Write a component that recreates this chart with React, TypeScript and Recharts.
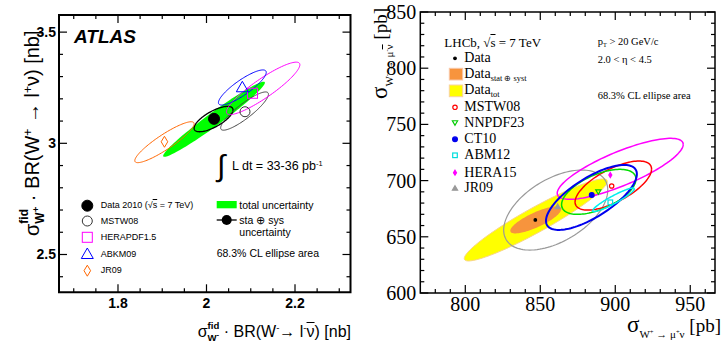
import React from 'react';
import { ScatterChart, Scatter, XAxis, YAxis, ReferenceArea } from 'recharts';

// ---------- ATLAS (left), values in nb ----------
const atlasXTicks = [1.7, 1.75, 1.8, 1.85, 1.9, 1.95, 2, 2.05, 2.1, 2.15, 2.2, 2.25, 2.3];
const atlasXMajors = [1.8, 2, 2.2];
const atlasXLabels = ['1.8', '2', '2.2'];
const atlasYTicks = [2.4, 2.5, 2.6, 2.7, 2.8, 2.9, 3, 3.1, 3.2, 3.3, 3.4, 3.5];
const atlasYMajors = [2.5, 3, 3.5];
const atlasYLabels = ['2.5', '3', '3.5'];

// ellipses: total, sta+sys, MSTW08, HERAPDF1.5, ABKM09, JR09
const atlasEllipseX = [2.017, 2.016, 2.086, 2.128, 2.081, 1.905];
const atlasEllipseY = [3.108, 3.109, 3.145, 3.247, 3.251, 3.005];
const atlasSigmaX = [0.115, 0.044, 0.054, 0.083, 0.054, 0.067];
const atlasSigmaY = [0.169, 0.057, 0.086, 0.118, 0.079, 0.092];
const atlasRho = [0.975, 0.72, 0.88, 0.9, 0.86, 0.9];

// points: Data 2010, MSTW08, HERAPDF1.5, ABKM09, JR09
const atlasPointNames = ['Data 2010', 'MSTW08', 'HERAPDF1.5', 'ABKM09', 'JR09'];
const atlasPointX = [2.017, 2.087, 2.104, 2.081, 1.905];
const atlasPointY = [3.11, 3.142, 3.225, 3.252, 3.007];

// ---------- LHCb (right), values in pb ----------
const lhcbXTicks = [780, 790, 800, 810, 820, 830, 840, 850, 860, 870, 880, 890, 900, 910, 920, 930, 940, 950, 960];
const lhcbXMajors = [800, 850, 900, 950];
const lhcbXLabels = ['800', '850', '900', '950'];
const lhcbYTicks = [600, 610, 620, 630, 640, 650, 660, 670, 680, 690, 700, 710, 720, 730, 740, 750, 760, 770, 780, 790, 800, 810, 820, 830, 840, 850];
const lhcbYMajors = [600, 650, 700, 750, 800, 850];
const lhcbYLabels = ['600', '650', '700', '750', '800', '850'];

// ellipses: tot, stat+syst, JR09, HERA15, MSTW08, NNPDF23, CT10, ABM12
const lhcbEllipseX = [847, 847, 860.3, 903.3, 898.7, 889, 884.1, 898.8];
const lhcbEllipseY = [665, 665, 673.8, 710.5, 695.6, 690, 685, 682.9];
const lhcbSigmaX = [47.7, 17, 34.7, 42, 25.5, 24.8, 30.3, 13.9];
const lhcbSigmaY = [36.5, 12, 35.6, 27.1, 21.8, 20, 28.9, 10.5];
const lhcbRho = [0.94, 0.8, 0.5, 0.8, 0.67, 0.57, 0.72, 0.93];

// points: Data, MSTW08, NNPDF23, CT10, ABM12, HERA15, JR09
const lhcbPointNames = ['Data', 'MSTW08', 'NNPDF23', 'CT10', 'ABM12', 'HERA15', 'JR09'];
const lhcbPointX = [846.7, 897.6, 888.7, 884.3, 896.7, 896.7, 861.6];
const lhcbPointY = [665, 695.2, 690.1, 687.2, 680.7, 705, 676.8];

// ---------- styles ----------
const SANS = '"Liberation Sans", Arial, Helvetica, sans-serif';
const SERIF = '"Liberation Serif", "Times New Roman", serif';

const atlasEllipseStyle = [
  { fill: '#00ff00', stroke: 'none', sw: 0 },
  { fill: 'none', stroke: '#000', sw: 1.3 },
  { fill: 'none', stroke: '#444', sw: 1 },
  { fill: 'none', stroke: '#ff00ff', sw: 1 },
  { fill: 'none', stroke: '#0000ff', sw: 1 },
  { fill: 'none', stroke: '#ff6600', sw: 1 },
];
const atlasMarkers = [
  { kind: 'circle', color: '#000', filled: true, r: 5.5 },
  { kind: 'circle', color: '#333', filled: false, r: 5 },
  { kind: 'square', color: '#ff00ff', filled: false, r: 5 },
  { kind: 'triUp', color: '#0000ff', filled: false, r: 6 },
  { kind: 'diamond', color: '#ff6600', filled: false, r: 5.5 },
];
const lhcbEllipseStyle = [
  { fill: '#ffff00', stroke: '#f8d38c', sw: 1 },
  { fill: '#f7943d', stroke: 'none', sw: 0 },
  { fill: 'none', stroke: '#999', sw: 1.2 },
  { fill: 'none', stroke: '#ff00ff', sw: 1.5 },
  { fill: 'none', stroke: '#ff0000', sw: 1.5 },
  { fill: 'none', stroke: '#00dd00', sw: 1.5 },
  { fill: 'none', stroke: '#0000ee', sw: 2 },
  { fill: 'none', stroke: '#00eeee', sw: 1.5 },
];
const lhcbMarkers = [
  { kind: 'circle', color: '#000', filled: true, r: 1.3 },
  { kind: 'circle', color: '#ff0000', filled: false, r: 2.2 },
  { kind: 'triDown', color: '#00cc00', filled: false, r: 2.6 },
  { kind: 'circle', color: '#0000ee', filled: true, r: 2.4 },
  { kind: 'square', color: '#00dddd', filled: false, r: 2.3 },
  { kind: 'diamond', color: '#ff00ff', filled: true, r: 2.5 },
  { kind: 'triUp', color: '#999', filled: true, r: 2.6 },
];

type Pt = { x: number; y: number };

// outline of a correlated error ellipse
function ellipsePoints(cx: number, cy: number, sx: number, sy: number, rho: number): Pt[] {
  const s = Math.sqrt(1 - rho * rho);
  const pts: Pt[] = [];
  for (let i = 0; i <= 120; i++) {
    const t = (i / 120) * 2 * Math.PI;
    pts.push({ x: cx + sx * Math.cos(t), y: cy + sy * (rho * Math.cos(t) + s * Math.sin(t)) });
  }
  return pts;
}

function Marker({ kind, cx, cy, r, color, filled, sw = 1 }: any) {
  const fill = filled ? color : 'none';
  if (kind === 'circle') return <circle cx={cx} cy={cy} r={r} fill={fill} stroke={color} strokeWidth={sw} />;
  if (kind === 'square') return <rect x={cx - r} y={cy - r} width={2 * r} height={2 * r} fill={fill} stroke={color} strokeWidth={sw} />;
  if (kind === 'triUp')
    return <polygon points={`${cx},${cy - r} ${cx + r},${cy + r * 0.75} ${cx - r},${cy + r * 0.75}`} fill={fill} stroke={color} strokeWidth={sw} />;
  if (kind === 'triDown')
    return <polygon points={`${cx},${cy + r} ${cx + r},${cy - r * 0.75} ${cx - r},${cy - r * 0.75}`} fill={fill} stroke={color} strokeWidth={sw} />;
  return <polygon points={`${cx},${cy - r} ${cx + r * 0.6},${cy} ${cx},${cy + r} ${cx - r * 0.6},${cy}`} fill={fill} stroke={color} strokeWidth={sw} />;
}

const near = (a: number, b: number) => Math.abs(a - b) < 1e-6;

const bottomTick = (cfg: any) => (p: any) => {
  const i = cfg.majors.findIndex((v: number) => near(v, p.payload.value));
  const len = i >= 0 ? cfg.majorLen : cfg.minorLen;
  return (
    <g>
      <line x1={p.x} x2={p.x} y1={p.y} y2={p.y - len} stroke="#000" strokeWidth={1.2} />
      <line x1={p.x} x2={p.x} y1={p.y - cfg.plotH} y2={p.y - cfg.plotH + len} stroke="#000" strokeWidth={1.2} />
      {i >= 0 && (
        <text x={p.x} y={p.y + cfg.labelDy} textAnchor="middle" fontFamily={cfg.font} fontSize={cfg.size} fontWeight={cfg.weight} fill="#000">
          {cfg.labels[i]}
        </text>
      )}
    </g>
  );
};

const leftTick = (cfg: any) => (p: any) => {
  const i = cfg.majors.findIndex((v: number) => near(v, p.payload.value));
  const len = i >= 0 ? cfg.majorLen : cfg.minorLen;
  return (
    <g>
      <line x1={p.x} x2={p.x + len} y1={p.y} y2={p.y} stroke="#000" strokeWidth={1.2} />
      <line x1={p.x + cfg.plotW} x2={p.x + cfg.plotW - len} y1={p.y} y2={p.y} stroke="#000" strokeWidth={1.2} />
      {i >= 0 && (
        <text x={p.x - cfg.labelDx} y={p.y + cfg.baseDy} textAnchor="end" fontFamily={cfg.font} fontSize={cfg.size} fontWeight={cfg.weight} fill="#000">
          {cfg.labels[i]}
        </text>
      )}
    </g>
  );
};

const H = 344;
const PANEL_W = 361;

// ---------- ATLAS panel ----------
const A_DOMAIN_X: [number, number] = [1.6667, 2.3254];
const A_DOMAIN_Y: [number, number] = [2.33, 3.577];
const A_TOP = 15;
const A_RIGHT = 10.5;
const A_YW = 59;
const A_XH = 51.7;
const A_PLOT_W = PANEL_W - A_YW - A_RIGHT;
const A_PLOT_H = H - A_TOP - A_XH;

function AtlasChart() {
  return (
    <ScatterChart width={PANEL_W} height={H} margin={{ top: A_TOP, right: A_RIGHT, left: 0, bottom: 0 }}>
      <XAxis
        type="number"
        dataKey="x"
        domain={A_DOMAIN_X}
        allowDataOverflow
        ticks={atlasXTicks}
        interval={0}
        height={A_XH}
        axisLine={false}
        tickLine={false}
        tickSize={0}
        tickMargin={0}
        tick={bottomTick({ majors: atlasXMajors, labels: atlasXLabels, plotH: A_PLOT_H, majorLen: 8, minorLen: 4, labelDy: 16, font: SANS, size: 14, weight: 'bold' })}
      />
      <YAxis
        type="number"
        dataKey="y"
        domain={A_DOMAIN_Y}
        allowDataOverflow
        ticks={atlasYTicks}
        interval={0}
        width={A_YW}
        axisLine={false}
        tickLine={false}
        tickSize={0}
        tickMargin={0}
        tick={leftTick({ majors: atlasYMajors, labels: atlasYLabels, plotW: A_PLOT_W, majorLen: 8, minorLen: 4, labelDx: 3, baseDy: 5, font: SANS, size: 14, weight: 'bold' })}
      />
      {atlasEllipseX.map((cx, i) => (
        <Scatter
          key={'ae' + i}
          data={ellipsePoints(cx, atlasEllipseY[i], atlasSigmaX[i], atlasSigmaY[i], atlasRho[i])}
          line={{ fill: atlasEllipseStyle[i].fill, stroke: atlasEllipseStyle[i].stroke, strokeWidth: atlasEllipseStyle[i].sw }}
          shape={() => <g />}
          isAnimationActive={false}
        />
      ))}
      {atlasPointX.map((x, i) => (
        <Scatter
          key={'ap' + i}
          name={atlasPointNames[i]}
          data={[{ x, y: atlasPointY[i] }]}
          shape={(p: any) => <Marker {...atlasMarkers[i]} cx={p.cx} cy={p.cy} sw={1} />}
          isAnimationActive={false}
        />
      ))}
      <ReferenceArea x1={A_DOMAIN_X[0]} x2={A_DOMAIN_X[1]} y1={A_DOMAIN_Y[0]} y2={A_DOMAIN_Y[1]} fill="none" stroke="#000" strokeWidth={2} ifOverflow="visible" />
    </ScatterChart>
  );
}

// ---------- LHCb panel ----------
const L_DOMAIN_X: [number, number] = [770, 966.5];
const L_DOMAIN_Y: [number, number] = [600, 850];
const L_TOP = 12;
const L_RIGHT = 7;
const L_YW = 59.3;
const L_XH = 51;
const L_PLOT_W = PANEL_W - L_YW - L_RIGHT;
const L_PLOT_H = H - L_TOP - L_XH;

function LhcbChart() {
  return (
    <ScatterChart width={PANEL_W} height={H} margin={{ top: L_TOP, right: L_RIGHT, left: 0, bottom: 0 }}>
      <XAxis
        type="number"
        dataKey="x"
        domain={L_DOMAIN_X}
        allowDataOverflow
        ticks={lhcbXTicks}
        interval={0}
        height={L_XH}
        axisLine={false}
        tickLine={false}
        tickSize={0}
        tickMargin={0}
        tick={bottomTick({ majors: lhcbXMajors, labels: lhcbXLabels, plotH: L_PLOT_H, majorLen: 8, minorLen: 4, labelDy: 18, font: SERIF, size: 20, weight: 'normal' })}
      />
      <YAxis
        type="number"
        dataKey="y"
        domain={L_DOMAIN_Y}
        allowDataOverflow
        ticks={lhcbYTicks}
        interval={0}
        width={L_YW}
        axisLine={false}
        tickLine={false}
        tickSize={0}
        tickMargin={0}
        tick={leftTick({ majors: lhcbYMajors, labels: lhcbYLabels, plotW: L_PLOT_W, majorLen: 8, minorLen: 4, labelDx: 4, baseDy: 7, font: SERIF, size: 20, weight: 'normal' })}
      />
      {lhcbEllipseX.map((cx, i) => (
        <Scatter
          key={'le' + i}
          data={ellipsePoints(cx, lhcbEllipseY[i], lhcbSigmaX[i], lhcbSigmaY[i], lhcbRho[i])}
          line={{ fill: lhcbEllipseStyle[i].fill, stroke: lhcbEllipseStyle[i].stroke, strokeWidth: lhcbEllipseStyle[i].sw }}
          shape={() => <g />}
          isAnimationActive={false}
        />
      ))}
      {lhcbPointX.map((x, i) => (
        <Scatter
          key={'lp' + i}
          name={lhcbPointNames[i]}
          data={[{ x, y: lhcbPointY[i] }]}
          shape={(p: any) => <Marker {...lhcbMarkers[i]} cx={p.cx} cy={p.cy} sw={1.2} />}
          isAnimationActive={false}
        />
      ))}
      <ReferenceArea x1={L_DOMAIN_X[0]} x2={L_DOMAIN_X[1]} y1={L_DOMAIN_Y[0]} y2={L_DOMAIN_Y[1]} fill="none" stroke="#000" strokeWidth={1.5} ifOverflow="visible" />
    </ScatterChart>
  );
}

// ---------- text helpers ----------
function Txt({ x, y, size, font, children, style }: any) {
  return (
    <div style={{ position: 'absolute', left: x, top: y - size / 2, fontSize: size, lineHeight: `${size}px`, fontFamily: font, whiteSpace: 'nowrap', color: '#000', ...style }}>
      {children}
    </div>
  );
}

const sup = (s: string) => <span style={{ fontSize: '0.6em', verticalAlign: '0.6em', lineHeight: 0 }}>{s}</span>;
const sub = (s: any) => <span style={{ fontSize: '0.6em', verticalAlign: '-0.35em', lineHeight: 0 }}>{s}</span>;
const bar = (s: string) => <span style={{ textDecoration: 'overline' }}>{s}</span>;

function SigmaFid({ charge }: { charge: string }) {
  return (
    <>
      σ
      <span style={{ display: 'inline-block', fontSize: '0.6em', lineHeight: '0.95em', verticalAlign: '-0.45em', fontWeight: 'bold' }}>
        <span style={{ display: 'block' }}>fid</span>
        <span style={{ display: 'block' }}>
          W<span style={{ fontSize: '0.8em', verticalAlign: '0.5em' }}>{charge}</span>
        </span>
      </span>
    </>
  );
}

export default function App() {
  return (
    <div style={{ position: 'absolute', left: 0, top: 0, width: 722, height: H, background: '#fff', overflow: 'hidden' }}>
      <div style={{ position: 'absolute', left: 0, top: 0 }}>
        <AtlasChart />
      </div>
      <div style={{ position: 'absolute', left: PANEL_W, top: 0 }}>
        <LhcbChart />
      </div>

      {/* ATLAS annotations */}
      <Txt x={74} y={36} size={19} font={SANS} style={{ fontWeight: 'bold', fontStyle: 'italic' }}>ATLAS</Txt>
      <Txt x={217} y={166} size={30} font={SANS}>∫</Txt>
      <Txt x={232} y={166} size={12.5} font={SANS}>
        L dt = 33-36 pb{sup('-1')}
      </Txt>
      {['Data 2010 (√', 'MSTW08', 'HERAPDF1.5', 'ABKM09', 'JR09'].map((t, i) => (
        <Txt key={t} x={100.7} y={[205.7, 221, 237.3, 254, 270.7][i]} size={9} font={SANS}>
          {i === 0 ? (
            <>
              Data 2010 (√{bar('s')} = 7 TeV)
            </>
          ) : (
            t
          )}
        </Txt>
      ))}
      <Txt x={239.3} y={205} size={10.5} font={SANS}>total uncertainty</Txt>
      <Txt x={239.3} y={220} size={10.5} font={SANS}>sta ⊕ sys</Txt>
      <Txt x={239.3} y={232} size={10.5} font={SANS}>uncertainty</Txt>
      <Txt x={216.7} y={253.3} size={10.5} font={SANS}>68.3% CL ellipse area</Txt>
      <div style={{ position: 'absolute', right: 722 - 351, top: 321, fontSize: 16, lineHeight: '16px', fontFamily: SANS, whiteSpace: 'nowrap' }}>
        <SigmaFid charge="-" /> · BR(W{sup('-')}→ l{sup('-')}{bar('ν')}) [nb]
      </div>
      <div
        style={{
          position: 'absolute',
          left: 19,
          top: 236,
          transform: 'rotate(-90deg)',
          transformOrigin: 'left top',
          fontSize: 20,
          lineHeight: '20px',
          fontFamily: SANS,
          whiteSpace: 'nowrap',
        }}
      >
        <SigmaFid charge="+" /> · BR(W{sup('+')} → l{sup('+')}ν) [nb]
      </div>

      {/* LHCb annotations */}
      <Txt x={444.3} y={42.7} size={13} font={SERIF}>
        LHCb, √{bar('s')} = 7 TeV
      </Txt>
      <Txt x={464.3} y={58.3} size={14} font={SERIF}>Data</Txt>
      <Txt x={464.3} y={74} size={14} font={SERIF}>
        Data{sub('stat ⊕ syst')}
      </Txt>
      <Txt x={464.3} y={90} size={14} font={SERIF}>
        Data{sub('tot')}
      </Txt>
      {lhcbPointNames.slice(1).map((t, i) => (
        <Txt key={t} x={464.3} y={[107.3, 122.7, 139.3, 155.3, 172.7, 188.3][i]} size={14} font={SERIF}>{t}</Txt>
      ))}
      <Txt x={597.7} y={42.3} size={10.5} font={SERIF}>
        p{sub('T')} &gt; 20 GeV/c
      </Txt>
      <Txt x={597.7} y={60.7} size={10.5} font={SERIF}>2.0 &lt; η &lt; 4.5</Txt>
      <Txt x={597.7} y={96.7} size={10.5} font={SERIF}>68.3% CL ellipse area</Txt>
      <div style={{ position: 'absolute', right: 1, top: 315, fontSize: 19, lineHeight: '19px', fontFamily: SERIF, whiteSpace: 'nowrap' }}>
        <span style={{ fontSize: 23 }}>σ</span>
        <span style={{ fontSize: 11, verticalAlign: '-0.5em' }}>
          W{sup('+')} → μ{sup('+')}ν
        </span>{' '}
        [pb]
      </div>
      <div
        style={{
          position: 'absolute',
          left: 370,
          top: 99,
          transform: 'rotate(-90deg)',
          transformOrigin: 'left top',
          fontSize: 19,
          lineHeight: '19px',
          fontFamily: SERIF,
          whiteSpace: 'nowrap',
        }}
      >
        <span style={{ fontSize: 23 }}>σ</span>
        <span style={{ fontSize: 11, verticalAlign: '-0.5em' }}>
          W{sup('-')} → μ{sup('-')}{bar('ν')}
        </span>{' '}
        [pb]
      </div>

      {/* legend symbols */}
      <svg width={722} height={H} style={{ position: 'absolute', left: 0, top: 0, pointerEvents: 'none' }}>
        {[205.7, 221, 237.3, 254, 270.7].map((y, i) => (
          <Marker key={'al' + i} {...atlasMarkers[i]} cx={87.3} cy={y} sw={1} />
        ))}
        <rect x={216.7} y={201} width={20} height={7.3} fill="#00ff00" />
        <line x1={216.7} x2={236.7} y1={220} y2={220} stroke="#000" strokeWidth={1.3} />
        <circle cx={226.7} cy={220} r={5} fill="#000" />
        <Marker {...lhcbMarkers[0]} cx={455} cy={58.3} sw={1.2} />
        <rect x={449.3} y={68.3} width={13.4} height={11.7} fill="#f7943d" stroke="#f9c7a8" strokeWidth={1} />
        <rect x={449.3} y={85} width={13.4} height={11.7} fill="#ffff00" stroke="#f9d3a0" strokeWidth={1} />
        {[107.3, 122.7, 139.3, 155.3, 172.7, 188.3].map((y, i) => (
          <Marker key={'ll' + i} {...lhcbMarkers[i + 1]} cx={455} cy={y} sw={1.2} />
        ))}
      </svg>
    </div>
  );
}
